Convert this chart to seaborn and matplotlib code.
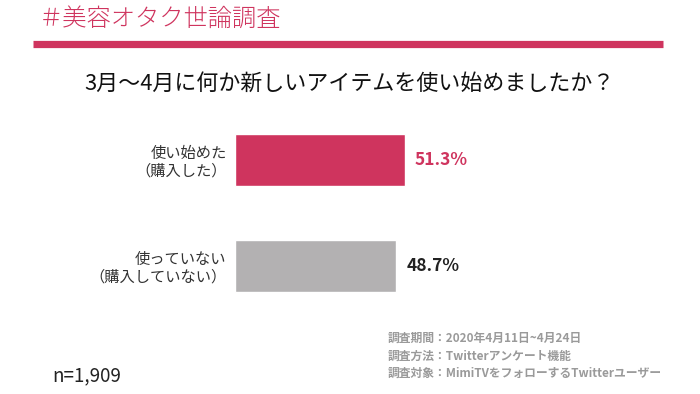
import matplotlib
matplotlib.use("Agg")
import matplotlib.pyplot as plt
import seaborn as sns
import pandas as pd

# Chart data
categories = ["使い始めた\n（購入した）", "使っていない\n（購入していない）"]
values = [51.3, 48.7]
value_labels = ["51.3%", "48.7%"]
bar_colors = ["#CF345E", "#B3B1B2"]
label_colors = ["#CF345E", "#222222"]

header = "＃美容オタク世論調査"
question = "3月～4月に何か新しいアイテムを使い始めましたか？"
notes = [
    "調査期間：2020年4月11日~4月24日",
    "調査方法：Twitterアンケート機能",
    "調査対象：MimiTVをフォローするTwitterユーザー",
]
sample = "n=1,909"

sns.set_theme(style="white")
plt.rcParams["font.family"] = ["Noto Sans CJK JP", "DejaVu Sans"]

df = pd.DataFrame({"category": categories, "value": values})

fig = plt.figure(figsize=(7, 3.94), dpi=100)
ax = fig.add_axes([0.3357, 0.189, 0.473, 0.541])

sns.barplot(data=df, x="value", y="category", hue="category",
            palette=bar_colors, saturation=1, orient="h", width=0.49,
            legend=False, ax=ax)
ax.set_xlim(0, 100)
ax.set_ylim(1.5, -0.5)
ax.set_xlabel("")
ax.set_ylabel("")
ax.set_xticks([])
ax.tick_params(axis="y", length=0, pad=6, labelsize=11, labelcolor="#333333")
for lbl in ax.get_yticklabels():
    lbl.set_multialignment("right")
    lbl.set_linespacing(1.05)
for side in ax.spines.values():
    side.set_visible(False)

for i, (v, txt) in enumerate(zip(values, value_labels)):
    ax.text(v + 3, i, txt, va="center", ha="left", fontsize=12.5,
            fontweight="bold", color=label_colors[i])

# header and decorations
fig.text(0.056, 0.95, header, ha="left", va="center", fontsize=17.5,
         fontweight="light", color="#CF345E")
fig.add_artist(plt.Line2D([0.047, 0.947], [0.889, 0.889], color="#CF345E",
                          linewidth=5.2, solid_capstyle="butt"))
fig.text(0.5, 0.787, question, ha="center", va="center", fontsize=15.8,
         color="#111111")

for k, line in enumerate(notes):
    fig.text(0.554, 0.142 - k * 0.045, line, ha="left", va="center",
             fontsize=8.5, fontweight="bold", color="#9A9A9A")

fig.text(0.074, 0.045, sample, ha="left", va="center", fontsize=13.5,
         color="#222222")

fig.savefig("out.png", dpi=100)
